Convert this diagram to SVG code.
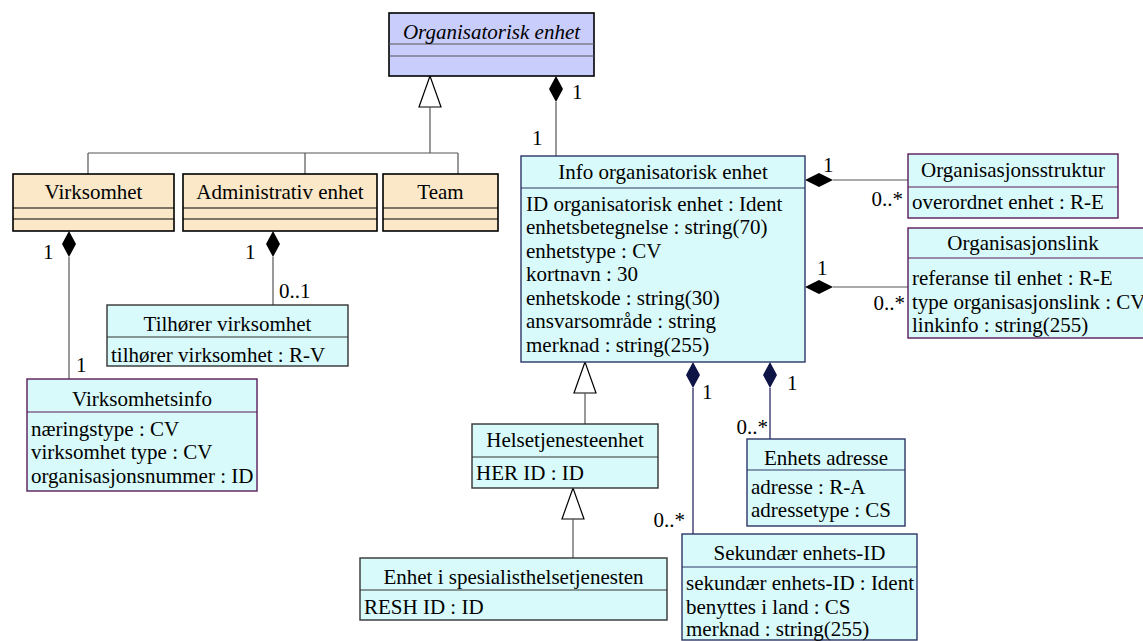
<svg xmlns="http://www.w3.org/2000/svg" width="1143" height="641" viewBox="0 0 1143 641">
<style>
text{font-family:"Liberation Serif","Times New Roman",serif;font-size:21px;fill:#000}
.c{text-anchor:middle}
.e{text-anchor:end}
.it{font-style:italic}
.abs{fill:#c9cdfb;stroke:#000;stroke-width:1.6}
.tan{fill:#fbe8c8;stroke:#000;stroke-width:1.6}
.cy{fill:#d8fafa;stroke-width:1.4}
.navy{stroke:#2d3566}
.pur{stroke:#5a1a5a}
.gry{stroke:#333}
.dv{stroke-width:1.2;fill:none}
.ln{stroke:#555;stroke-width:1.2;fill:none}
.lnn{stroke:#1a1a5a;stroke-width:1.2;fill:none}
.gen{fill:#fff;stroke:#000;stroke-width:1.2}
.dia{fill:#000}
.dian{fill:#0f1446}
</style>
<g id="connectors">
<!-- generalization tree to Organisatorisk enhet -->
<polygon class="gen" points="430,76 419,107 441,107"/>
<path class="ln" d="M430,107 V153 M88,153 H458 M88,153 V174 M305,153 V174 M458,153 V174"/>
<!-- composition Org -> Info -->
<polygon class="dia" points="556,76 563,89 556,102 549,89"/>
<path class="ln" d="M556,102 V156"/>
<text x="572" y="99">1</text>
<text x="532" y="145">1</text>
<!-- Virksomhet -> Virksomhetsinfo -->
<polygon class="dia" points="69,231 76,244 69,257 62,244"/>
<path class="ln" d="M69,257 V379"/>
<text x="43" y="259">1</text>
<text x="76" y="372">1</text>
<!-- Administrativ -> Tilhorer -->
<polygon class="dia" points="273,231 280,244 273,257 266,244"/>
<path class="ln" d="M273,257 V305"/>
<text x="245" y="259">1</text>
<text x="279" y="298">0..1</text>
<!-- Info -> Organisasjonsstruktur -->
<polygon class="dia" points="805,180 819,173 833,180 819,187"/>
<path class="ln" d="M833,180 H908"/>
<text x="823" y="172">1</text>
<text class="e" x="903" y="206">0..*</text>
<!-- Info -> Organisasjonslink -->
<polygon class="dia" points="805,287 819,280 833,287 819,294"/>
<path class="ln" d="M833,287 H908"/>
<text x="817" y="275">1</text>
<text class="e" x="905" y="310">0..*</text>
<!-- Info -> Helsetjenesteenhet generalization -->
<polygon class="gen" points="585,362 574,393 596,393"/>
<path class="ln" d="M585,393 V424"/>
<!-- Helset -> Enhet i spes generalization -->
<polygon class="gen" points="573,488 562,519 584,519"/>
<path class="ln" d="M573,519 V558"/>
<!-- Info -> Sekundaer -->
<polygon class="dian" points="693,362 700,375 693,388 686,375"/>
<path class="lnn" d="M693,388 V534"/>
<text x="702" y="399">1</text>
<text class="e" x="685" y="527">0..*</text>
<!-- Info -> Enhets adresse -->
<polygon class="dian" points="770,362 777,375 770,388 763,375"/>
<path class="lnn" d="M770,388 V439"/>
<text x="787" y="390">1</text>
<text class="e" x="768" y="434">0..*</text>
</g>
<g id="organisatorisk-enhet">
<rect class="abs" x="389" y="13" width="205" height="63"/>
<path class="dv" stroke="#555" d="M389,44 H594 M389,56 H594"/>
<text class="c it" x="491.5" y="39">Organisatorisk enhet</text>
</g>
<g id="virksomhet">
<rect class="tan" x="13" y="174" width="161" height="57"/>
<path class="dv" stroke="#000" d="M13,208 H174 M13,219 H174"/>
<text class="c" x="93.5" y="199">Virksomhet</text>
</g>
<g id="administrativ-enhet">
<rect class="tan" x="183" y="174" width="194" height="57"/>
<path class="dv" stroke="#000" d="M183,208 H377 M183,219 H377"/>
<text class="c" x="280" y="199">Administrativ enhet</text>
</g>
<g id="team">
<rect class="tan" x="383" y="174" width="115" height="57"/>
<path class="dv" stroke="#000" d="M383,208 H498 M383,219 H498"/>
<text class="c" x="440.5" y="199">Team</text>
</g>
<g id="info-organisatorisk-enhet">
<rect class="cy navy" x="521" y="156" width="284" height="206"/>
<path class="dv navy" d="M521,188 H805"/>
<text class="c" x="663" y="179">Info organisatorisk enhet</text>
<text x="526" y="211">ID organisatorisk enhet : Ident</text>
<text x="526" y="234">enhetsbetegnelse : string(70)</text>
<text x="526" y="258">enhetstype : CV</text>
<text x="526" y="281">kortnavn : 30</text>
<text x="526" y="305">enhetskode : string(30)</text>
<text x="526" y="328">ansvarsområde : string</text>
<text x="526" y="352">merknad : string(255)</text>
</g>
<g id="organisasjonsstruktur">
<rect class="cy pur" x="908" y="154" width="210" height="64"/>
<path class="dv pur" d="M908,187 H1118"/>
<text class="c" x="1013" y="177">Organisasjonsstruktur</text>
<text x="912" y="209">overordnet enhet : R-E</text>
</g>
<g id="organisasjonslink">
<rect class="cy pur" x="908" y="228" width="245" height="110"/>
<path class="dv pur" d="M908,258 H1153"/>
<text class="c" x="1023" y="250">Organisasjonslink</text>
<text x="912" y="285">referanse til enhet : R-E</text>
<text x="912" y="309">type organisasjonslink : CV</text>
<text x="912" y="332">linkinfo : string(255)</text>
</g>
<g id="tilhorer-virksomhet">
<rect class="cy gry" x="107" y="305" width="241" height="61"/>
<path class="dv gry" d="M107,337 H348"/>
<text class="c" x="227.5" y="331">Tilhører virksomhet</text>
<text x="111" y="362">tilhører virksomhet : R-V</text>
</g>
<g id="virksomhetsinfo">
<rect class="cy pur" x="27" y="379" width="230" height="112"/>
<path class="dv pur" d="M27,412 H257"/>
<text class="c" x="142" y="406">Virksomhetsinfo</text>
<text x="31" y="436">næringstype : CV</text>
<text x="31" y="459">virksomhet type : CV</text>
<text x="31" y="483">organisasjonsnummer : ID</text>
</g>
<g id="helsetjenesteenhet">
<rect class="cy gry" x="472" y="424" width="186" height="64"/>
<path class="dv gry" d="M472,457 H658"/>
<text class="c" x="565" y="447">Helsetjenesteenhet</text>
<text x="476" y="480">HER ID : ID</text>
</g>
<g id="enhet-i-spesialisthelsetjenesten">
<rect class="cy gry" x="360" y="558" width="307" height="62"/>
<path class="dv gry" d="M360,590 H667"/>
<text class="c" x="513.5" y="584">Enhet i spesialisthelsetjenesten</text>
<text x="364" y="614">RESH ID : ID</text>
</g>
<g id="enhets-adresse">
<rect class="cy navy" x="747" y="439" width="158" height="87"/>
<path class="dv navy" d="M747,470 H905"/>
<text class="c" x="826" y="465">Enhets adresse</text>
<text x="751" y="494">adresse : R-A</text>
<text x="751" y="517">adressetype : CS</text>
</g>
<g id="sekundaer-enhets-id">
<rect class="cy navy" x="682" y="534" width="235" height="106"/>
<path class="dv navy" d="M682,567 H917"/>
<text class="c" x="799.5" y="560">Sekundær enhets-ID</text>
<text x="686" y="590">sekundær enhets-ID : Ident</text>
<text x="686" y="614">benyttes i land : CS</text>
<text x="686" y="636">merknad : string(255)</text>
</g>
</svg>
